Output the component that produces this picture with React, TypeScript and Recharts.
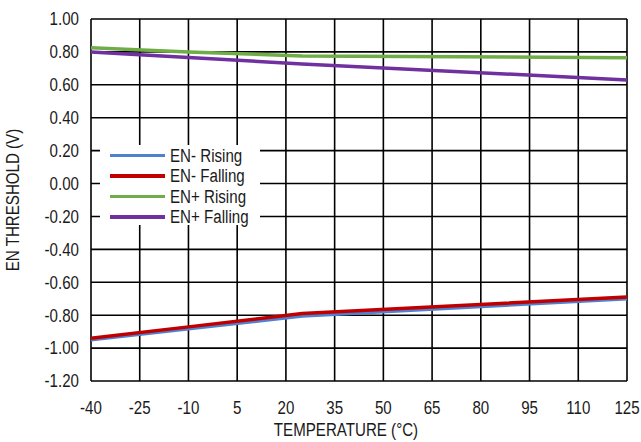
import React from 'react';
import { LineChart, Line, XAxis, YAxis, CartesianGrid, Label } from 'recharts';

const temps = [-40, -10, 25, 125];
const enMinusRising = [-0.95, -0.883, -0.805, -0.7];
const enMinusFalling = [-0.94, -0.871, -0.79, -0.69];
const enPlusRising = [0.825, 0.8, 0.775, 0.765];
const enPlusFalling = [0.8, 0.766, 0.727, 0.63];

const xTicks = [-40, -25, -10, 5, 20, 35, 50, 65, 80, 95, 110, 125];
const yTicks = [-1.2, -1.0, -0.8, -0.6, -0.4, -0.2, 0, 0.2, 0.4, 0.6, 0.8, 1.0];

const seriesNames = ['EN- Rising', 'EN- Falling', 'EN+ Rising', 'EN+ Falling'];
const seriesColors = ['#4F81D0', '#C00000', '#70AD47', '#7030A0'];

const data = temps.map((t, i) => ({
  t,
  s0: enMinusRising[i],
  s1: enMinusFalling[i],
  s2: enPlusRising[i],
  s3: enPlusFalling[i],
}));

const FONT = '"Liberation Sans", Arial, sans-serif';
const TEXT = '#1a1a1a';
const SX = 0.84;
const FS = 18;

const XTick = (props: any) => {
  const { x, y, payload } = props;
  return (
    <g transform={`translate(${x},${y})`}>
      <text transform={`scale(${SX},1)`} x={0} y={0} dy="0.71em" textAnchor="middle" fontFamily={FONT} fontSize={FS} fill={TEXT}>
        {payload.value}
      </text>
    </g>
  );
};

const YTick = (props: any) => {
  const { x, y, payload } = props;
  return (
    <g transform={`translate(${x},${y})`}>
      <text transform={`scale(${SX},1)`} x={0} y={0} dy="0.355em" textAnchor="end" fontFamily={FONT} fontSize={FS} fill={TEXT}>
        {Number(payload.value).toFixed(2)}
      </text>
    </g>
  );
};

const renderYTitle = (props: any) => {
  const vb = props.viewBox || {};
  const x = vb.x + 13;
  const y = vb.y + vb.height / 2;
  return (
    <g transform={`translate(${x},${y}) rotate(-90)`}>
      <text transform={`scale(${SX},1)`} x={0} y={0} textAnchor="middle" dominantBaseline="central" fontFamily={FONT} fontSize={FS} fill={TEXT}>
        EN THRESHOLD (V)
      </text>
    </g>
  );
};

const renderXTitle = (props: any) => {
  const vb = props.viewBox || {};
  const x = vb.x + vb.width / 2 - 13;
  const y = vb.y + 55;
  return (
    <g transform={`translate(${x},${y})`}>
      <text transform={`scale(${SX},1)`} x={0} y={0} textAnchor="middle" fontFamily={FONT} fontSize={FS} fill={TEXT}>
        TEMPERATURE (°C)
      </text>
    </g>
  );
};

export default function App() {
  return (
    <div style={{ position: 'absolute', left: 0, top: 0, width: 641, height: 442, background: '#fff' }}>
      <LineChart width={641} height={442} data={data} margin={{ top: 19, right: 14, bottom: 0, left: 0 }}>
        <CartesianGrid stroke="#000" strokeWidth={1.6} horizontalValues={yTicks} verticalValues={xTicks} />
        <XAxis
          dataKey="t"
          type="number"
          domain={[-40, 125]}
          ticks={xTicks}
          interval={0}
          height={61}
          axisLine={false}
          tickLine={false}
          tickSize={0}
          tickMargin={20}
          tick={<XTick />}
        >
          <Label content={renderXTitle} />
        </XAxis>
        <YAxis
          type="number"
          domain={[-1.2, 1.0]}
          ticks={yTicks}
          interval={0}
          width={91}
          axisLine={false}
          tickLine={false}
          tickSize={0}
          tickMargin={12}
          tick={<YTick />}
        >
          <Label content={renderYTitle} />
        </YAxis>
        {seriesNames.map((name, i) => (
          <Line
            key={name}
            type="linear"
            dataKey={`s${i}`}
            name={name}
            stroke={seriesColors[i]}
            strokeWidth={3.5}
            dot={false}
            activeDot={false}
            isAnimationActive={false}
          />
        ))}
      </LineChart>
      <div style={{ position: 'absolute', left: 100, top: 145, width: 160, height: 80, background: '#fff' }}>
        {seriesNames.map((name, i) => (
          <div
            key={name}
            style={{ position: 'absolute', left: 0, top: 0.7 + i * 20.5, height: 20, width: 160, display: 'flex', alignItems: 'center' }}
          >
            <div style={{ marginLeft: 10, width: 55, height: 3.5, background: seriesColors[i], flex: 'none' }} />
            <span
              style={{
                marginLeft: 5,
                fontFamily: FONT,
                fontSize: FS,
                color: TEXT,
                lineHeight: '20px',
                whiteSpace: 'nowrap',
                display: 'inline-block',
                transform: `scaleX(${SX})`,
                transformOrigin: 'left center',
              }}
            >
              {name}
            </span>
          </div>
        ))}
      </div>
    </div>
  );
}
